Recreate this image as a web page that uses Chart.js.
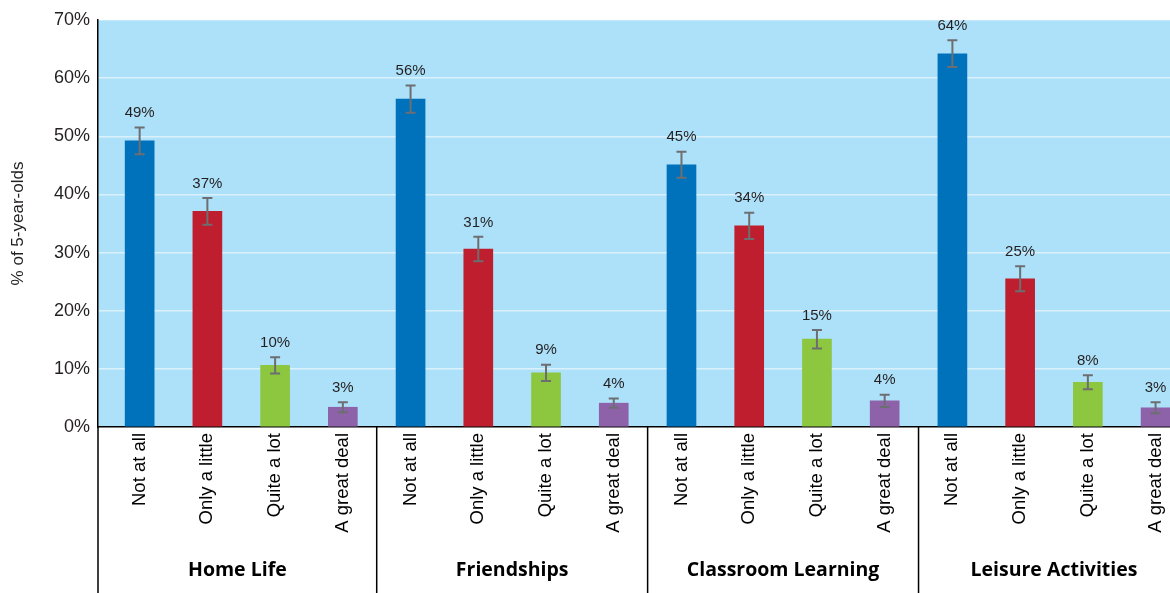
<!DOCTYPE html>
<html>
<head>
<meta charset="utf-8">
<script src="https://cdn.jsdelivr.net/npm/chart.js@4/dist/chart.umd.min.js"></script>
<style>
  html, body { margin: 0; padding: 0; background: #fff; overflow: hidden; }
  #wrap { width: 1170px; height: 593px; overflow: hidden; }
</style>
</head>
<body>
<!-- o original está cortado à direita: o canvas é um pouco mais largo que a janela -->
<div id="wrap"><canvas id="chart" width="1203" height="593"></canvas></div>
<script>
// categorias e valores
const groups = ['Home Life', 'Friendships', 'Classroom Learning', 'Leisure Activities'];
const responses = ['Not at all', 'Only a little', 'Quite a lot', 'A great deal'];
const responseColors = ['#0071bb', '#be1e2d', '#8dc63f', '#8e62a8'];

const homeLife   = [49.2, 37.1, 10.6, 3.4];
const friendships = [56.4, 30.6, 9.3, 4.1];
const classroom  = [45.1, 34.6, 15.1, 4.5];
const leisure    = [64.2, 25.5, 7.7, 3.3];

// margem de erro (+/-)
const homeLifeErr    = [2.3, 2.3, 1.4, 0.85];
const friendshipsErr = [2.35, 2.1, 1.4, 0.8];
const classroomErr   = [2.25, 2.25, 1.6, 1.05];
const leisureErr     = [2.3, 2.15, 1.2, 0.95];

// rótulos impressos acima das barras
const printedLabels = ['49%', '37%', '10%', '3%', '56%', '31%', '9%', '4%', '45%', '34%', '15%', '4%', '64%', '25%', '8%', '3%'];

const yTicks = [0, 10, 20, 30, 40, 50, 60, 70];

const values = [homeLife, friendships, classroom, leisure].flat();
const errors = [homeLifeErr, friendshipsErr, classroomErr, leisureErr].flat();
const tickLabels = groups.flatMap(() => responses);
const barColors = groups.flatMap(() => responseColors);

// fundo azul da área do gráfico
const plotBackground = {
  id: 'plotBackground',
  beforeDraw(chart) {
    const { ctx, chartArea } = chart;
    ctx.save();
    ctx.fillStyle = '#ade1f9';
    ctx.fillRect(chartArea.left, chartArea.top, chartArea.right - chartArea.left, chartArea.bottom - chartArea.top);
    ctx.restore();
  }
};

// barras de erro + rótulos de porcentagem
const errorBars = {
  id: 'errorBars',
  afterDatasetsDraw(chart) {
    const { ctx, scales } = chart;
    const x = scales.x, y = scales.y;
    ctx.save();
    ctx.strokeStyle = '#6d6e71';
    ctx.lineWidth = 2;
    ctx.fillStyle = '#231f20';
    ctx.font = '15px "Liberation Sans", Arial, sans-serif';
    ctx.textAlign = 'center';
    ctx.textBaseline = 'bottom';
    values.forEach((v, i) => {
      const px = x.getPixelForValue(i);
      const top = y.getPixelForValue(v + errors[i]);
      const bot = y.getPixelForValue(v - errors[i]);
      ctx.beginPath();
      ctx.moveTo(px, top); ctx.lineTo(px, bot);
      ctx.moveTo(px - 5, top); ctx.lineTo(px + 5, top);
      ctx.moveTo(px - 5, bot); ctx.lineTo(px + 5, bot);
      ctx.stroke();
      ctx.fillText(printedLabels[i], px, top - 7);
    });
    ctx.restore();
  }
};

// divisórias dos grupos e nomes dos grupos embaixo
const groupAxis = {
  id: 'groupAxis',
  afterDraw(chart) {
    const { ctx, chartArea, scales } = chart;
    const x = scales.x;
    const bottom = chart.height;
    const n = responses.length;
    const edges = [chartArea.left];
    for (let g = 1; g <= groups.length; g++) edges.push(x.getPixelForValue(g * n - 0.5));
    ctx.save();
    ctx.strokeStyle = '#000';
    ctx.lineWidth = 1.5;
    ctx.beginPath();
    edges.slice(0, groups.length).forEach(e => {
      ctx.moveTo(e, chartArea.bottom);
      ctx.lineTo(e, bottom);
    });
    ctx.stroke();
    ctx.fillStyle = '#000';
    ctx.font = 'bold 19.5px "Open Sans", "Liberation Sans", sans-serif';
    ctx.textAlign = 'center';
    ctx.textBaseline = 'middle';
    groups.forEach((name, g) => {
      ctx.fillText(name, (edges[g] + edges[g + 1]) / 2, 570);
    });
    ctx.restore();
  }
};

const ctx = document.getElementById('chart').getContext('2d');
new Chart(ctx, {
  type: 'bar',
  data: {
    datasets: [{
      data: values.map((v, i) => ({ x: i, y: v })),
      backgroundColor: barColors,
      barThickness: 29
    }]
  },
  options: {
    responsive: false,
    animation: false,
    layout: { padding: { top: 20, left: 0, right: 0, bottom: 0 } },
    plugins: {
      legend: { display: false },
      tooltip: { enabled: false }
    },
    scales: {
      x: {
        type: 'linear',
        offset: false,
        min: -0.615,
        max: 15.7,
        grid: { display: false, drawTicks: false, offset: false },
        border: { display: true, color: '#000', width: 1.5 },
        afterBuildTicks(scale) {
          scale.ticks = tickLabels.map((_, i) => ({ value: i }));
        },
        afterFit(scale) { scale.height = 166; },
        ticks: {
          autoSkip: false,
          minRotation: 90,
          maxRotation: 90,
          padding: 6,
          color: '#000',
          font: { family: '"Liberation Sans", Arial, sans-serif', size: 18.5 },
          callback: (v) => tickLabels[v]
        }
      },
      y: {
        min: 0,
        max: 70,
        afterBuildTicks(scale) {
          scale.ticks = yTicks.map(v => ({ value: v }));
        },
        afterFit(scale) { scale.width = 98; },
        grid: { color: 'rgba(255,255,255,0.55)', lineWidth: 1.5, drawTicks: false },
        border: { display: true, color: '#000', width: 1.5 },
        ticks: {
          padding: 8,
          color: '#231f20',
          font: { family: '"Liberation Sans", Arial, sans-serif', size: 18 },
          callback: (v) => v + '%'
        },
        title: {
          display: true,
          text: '% of 5-year-olds',
          color: '#231f20',
          padding: { top: 8, bottom: 4 },
          font: { family: '"Liberation Sans", Arial, sans-serif', size: 17 }
        }
      }
    }
  },
  plugins: [plotBackground, errorBars, groupAxis]
});
</script>
</body>
</html>
